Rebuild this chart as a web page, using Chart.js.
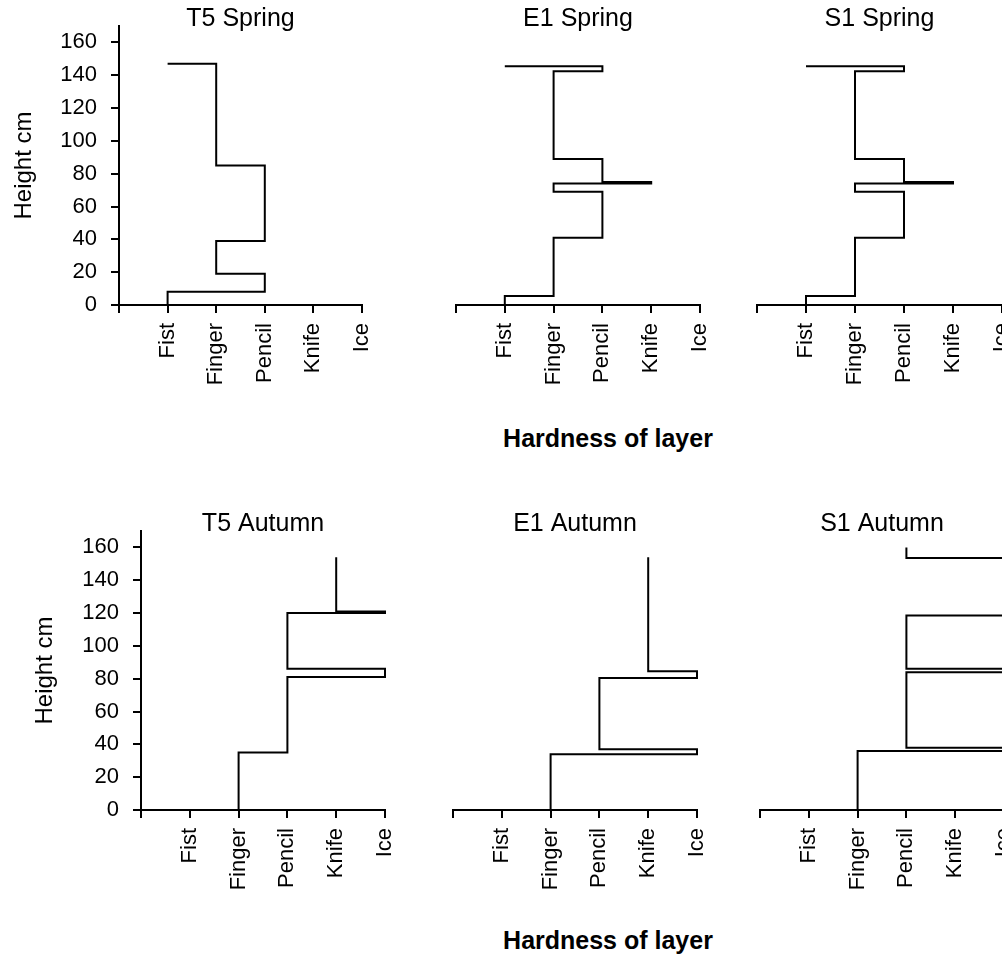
<!DOCTYPE html>
<html>
<head>
<meta charset="utf-8">
<title>Snow hardness profiles</title>
<script src="https://cdn.jsdelivr.net/npm/chart.js@4.4.1/dist/chart.umd.min.js"></script>
<style>
  html, body { margin: 0; padding: 0; background: #fff; overflow: hidden; }
  body { width: 1002px; height: 958px; position: relative; }
  canvas { position: absolute; }
  .xlabel {
    position: absolute; width: 400px; text-align: center;
    font: bold 25px "Liberation Sans", Arial, Helvetica, sans-serif; line-height: 25px;
  }
</style>
</head>
<body>
<div class="xlabel" style="left:408px; top:426px">Hardness of layer</div>
<div class="xlabel" style="left:408px; top:928px">Hardness of layer</div>
<script>
// hardness classes on the x axis (0 is an unlabelled origin)
const hardnessLabels = ["", "Fist", "Finger", "Pencil", "Knife", "Ice"];

// each profile: layer boundary heights (cm) and the hardness above that boundary
const t5SpringHeight = [0, 8, 19, 39, 85, 147];
const t5SpringHardness = [1, 3, 2, 3, 2, 1];
const e1SpringHeight = [0, 5.5, 41, 69, 74, 75, 89, 142.5, 145.5];
const e1SpringHardness = [1, 2, 3, 2, 4, 3, 2, 3, 1];
const s1SpringHeight = [0, 5.5, 41, 69, 74, 75, 89, 142.5, 145.5];
const s1SpringHardness = [1, 2, 3, 2, 4, 3, 2, 3, 1];
const t5AutumnHeight = [0, 35, 81, 86, 120, 121, 154];
const t5AutumnHardness = [2, 3, 5, 3, 5, 4, 4];
const e1AutumnHeight = [0, 34, 37, 80.5, 84.5, 154];
const e1AutumnHardness = [2, 5, 3, 5, 4, 4];
const s1AutumnHeight = [0, 36, 38, 84, 86, 118.5, 153.5, 160];
const s1AutumnHardness = [2, 5, 3, 5, 3, 5, 3, 3];

const yMax = 170;
const yStep = 20;

const FONT = '"Liberation Sans", Arial, Helvetica, sans-serif';
const TITLE_SIZE = 25;
const TITLE_BOX = 25;   // 30px line box + 3px top pad, pulled 8px onto the plot
const TITLE_SHIFT = 3;
const X_AXIS_H = 110;   // room for the rotated labels
const SIDE_PAD = 20;

// plot area of each panel: [left, right, top, bottom] in page pixels
const panels = [
  { title: "T5 Spring", height: t5SpringHeight, hardness: t5SpringHardness, box: [119, 362, 26, 305], yAxis: true, yTitleX: 24 },
  { title: "E1 Spring", height: e1SpringHeight, hardness: e1SpringHardness, box: [456, 700, 26, 305] },
  { title: "S1 Spring", height: s1SpringHeight, hardness: s1SpringHardness, box: [757, 1002, 26, 305] },
  { title: "T5 Autumn", height: t5AutumnHeight, hardness: t5AutumnHardness, box: [141, 385, 531, 810], yAxis: true, yTitleX: 45 },
  { title: "E1 Autumn", height: e1AutumnHeight, hardness: e1AutumnHardness, box: [453, 697, 531, 810] },
  { title: "S1 Autumn", height: s1AutumnHeight, hardness: s1AutumnHardness, box: [760, 1004, 531, 810] },
];

function axisLines() {
  return {
    grid: { display: true, drawOnChartArea: false, drawTicks: true, tickLength: 8, color: "#000", lineWidth: 2 },
    border: { display: true, color: "#000", width: 2 },
  };
}

function drawPanel(p) {
  const yw = p.yAxis ? p.box[0] : 0;
  const padL = p.yAxis ? 0 : SIDE_PAD;
  const left = p.box[0] - yw - padL;
  const top = p.box[2] - TITLE_BOX;
  const width = p.box[1] - left + SIDE_PAD;
  const height = p.box[3] - top + X_AXIS_H;

  const canvas = document.createElement("canvas");
  canvas.width = width;
  canvas.height = height;
  canvas.style.left = left + "px";
  canvas.style.top = top + "px";
  canvas.style.width = width + "px";
  canvas.style.height = height + "px";
  document.body.appendChild(canvas);

  const points = p.height.map((h, i) => ({ x: p.hardness[i], y: h }));

  const yScale = p.yAxis
    ? {
        type: "linear",
        min: 0,
        max: yMax,
        ticks: { stepSize: yStep, includeBounds: false, padding: 14, color: "#000", font: { family: FONT, size: 22 } },
        title: {
          display: true,
          text: "Height cm",
          color: "#000",
          font: { family: FONT, size: 24 },
          padding: { top: p.yTitleX - left - 14.4, bottom: 0 },
        },
        ...axisLines(),
        afterFit: (s) => {
          s.width = yw;
          s.paddingTop = 0;
          s.paddingBottom = 0;
        },
      }
    : { type: "linear", display: false, min: 0, max: yMax };

  new Chart(canvas.getContext("2d"), {
    type: "line",
    data: {
      datasets: [
        {
          data: points,
          borderColor: "#000",
          borderWidth: 2,
          pointRadius: 0,
          stepped: "after",
          fill: false,
          clip: false,
        },
      ],
    },
    options: {
      responsive: false,
      animation: false,
      events: [],
      layout: { padding: { left: padL, right: SIDE_PAD, top: 0, bottom: 0 } },
      plugins: {
        legend: { display: false },
        tooltip: { enabled: false },
        title: {
          display: true,
          fullSize: false,
          text: p.title,
          color: "#000",
          font: { family: FONT, size: TITLE_SIZE, weight: "normal", lineHeight: 1.2 },
          padding: { top: TITLE_SHIFT, bottom: TITLE_BOX - TITLE_SIZE * 1.2 - TITLE_SHIFT },
        },
      },
      scales: {
        x: {
          type: "linear",
          min: 0,
          max: 5,
          ticks: {
            stepSize: 1,
            autoSkip: false,
            minRotation: 90,
            maxRotation: 90,
            padding: 10,
            color: "#000",
            font: { family: FONT, size: 22 },
            callback: (v) => hardnessLabels[Math.round(v)],
          },
          ...axisLines(),
          afterFit: (s) => {
            s.height = X_AXIS_H;
            s.paddingLeft = 0;
            s.paddingRight = 0;
          },
        },
        y: yScale,
      },
    },
  });
}

panels.forEach(drawPanel);
</script>
</body>
</html>
